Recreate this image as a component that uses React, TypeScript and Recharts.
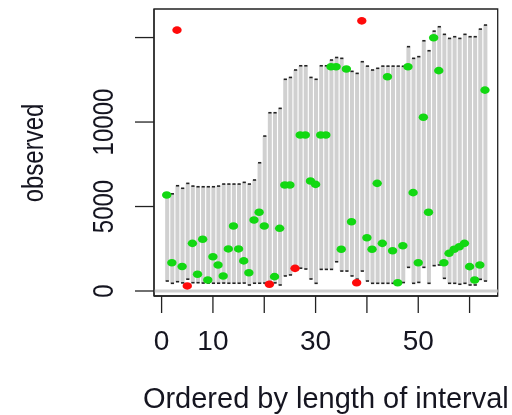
import {
  ComposedChart,
  Bar,
  Scatter,
  XAxis,
  YAxis,
  ReferenceLine,
  ReferenceArea,
} from "recharts";

// interval index (ordered by length of interval)
const idx = [
  1, 2, 3, 4, 5, 6, 7, 8, 9, 10, 11, 12, 13, 14, 15, 16, 17, 18, 19, 20, 21,
  22, 23, 24, 25, 26, 27, 28, 29, 30, 31, 32, 33, 34, 35, 36, 37, 38, 39, 40,
  41, 42, 43, 44, 45, 46, 47, 48, 49, 50, 51, 52, 53, 54, 55, 56, 57, 58, 59,
  60, 61, 62, 63,
];

const lower = [
  590, 455, 550, 480, 700, 490, 490, 470, 470, 460, 460, 470, 460, 460, 460,
  470, 355, 460, 460, 470, 550, 480, 355, 890, 950, 1450, 1350, 1300, 710, 455,
  1280, 1280, 1280, 1730, 1180, 1180, 890, 700, 1180, 590, 455, 455, 455, 455,
  455, 420, 500, 1400, 455, 510, 1400, 455, 1500, 1540, 750, 455, 455, 400,
  455, 355, 355, 690, 590,
];

const upper = [
  5800, 5750, 6230, 6080, 6370, 6210, 6170, 6170, 6170, 6170, 6210, 6330, 6330,
  6330, 6330, 6430, 6330, 6570, 7590, 9170, 10550, 10550, 10810, 12530, 12640,
  13080, 13330, 13330, 12640, 12530, 13330, 13330, 13670, 13820, 13770, 13200,
  13000, 12880, 13570, 13310, 13080, 13180, 13310, 13310, 13310, 13310, 13300,
  14460, 13770, 13870, 14810, 14220, 15380, 15640, 15190, 14950, 15050, 14950,
  15190, 15050, 15050, 15500, 15740,
];

const observed = [
  5680, 1675, 15440, 1450, 300, 2820, 990, 3060, 650, 2030, 1540, 890, 2490,
  3850, 2490, 1780, 1080, 4200, 4660, 3850, 400, 850, 3710, 6270, 6270, 1340,
  9230, 9230, 6510, 6310, 9230, 9230, 13270, 13270, 2470, 13140, 4100, 490,
  15990, 3150, 2470, 6370, 2820, 12680, 2380, 490, 2680, 13270, 5820, 1675,
  10280, 4660, 14990, 13040, 1675, 2230, 2470, 2620, 2820, 1440, 650, 1540,
  11890,
];

const xTicks = [0, 10, 20, 30, 40, 50, 60];
const xTickLabels = ["0", "10", "", "30", "", "50", ""];
const yTicks = [0, 5000, 10000, 15000];
const yTickLabels = ["0", "5000", "10000", ""];

const rows = idx.map((i, k) => ({
  idx: i,
  range: [lower[k], upper[k]],
  obs: observed[k],
  inside: observed[k] >= lower[k] && observed[k] <= upper[k],
}));
const insideRows = rows.filter((r) => r.inside);
const outsideRows = rows.filter((r) => !r.inside);

const FONT = "'Liberation Sans', Arial, Helvetica, sans-serif";
const INK = "#151520";

const IntervalShape = (props: any) => {
  const { x, y, width, height } = props;
  const top = Math.min(y, y + height);
  const h = Math.abs(height);
  const cx = x + width / 2;
  return (
    <g>
      <rect x={x} y={top} width={width} height={h} fill="#d0d0d0" />
      <rect x={cx - 1.5} y={top - 0.8} width={3.2} height={1.6} fill="#222" />
      <rect x={cx - 1.5} y={top + h - 0.8} width={3.2} height={1.6} fill="#222" />
    </g>
  );
};

const dot = (color: string) => (props: any) =>
  <ellipse cx={props.cx} cy={props.cy} rx={4.7} ry={3.8} fill={color} />;

const XTick = (props: any) => {
  const { x, payload } = props;
  const label = xTickLabels[xTicks.indexOf(payload.value)];
  if (!label) return <g />;
  return (
    <text x={x} y={350} textAnchor="middle" fontSize={28} fontFamily={FONT} fill={INK}>
      {label}
    </text>
  );
};

const YTick = (props: any) => {
  const { y, payload } = props;
  const label = yTickLabels[yTicks.indexOf(payload.value)];
  if (!label) return <g />;
  return (
    <text
      transform={`translate(113.3, ${y}) scale(1.2, 1) rotate(-90)`}
      textAnchor="middle"
      fontSize={24}
      fontFamily={FONT}
      fill={INK}
    >
      {label}
    </text>
  );
};

export default function App() {
  // fixed so the page never gets a scrollbar
  return (
    <div style={{ position: "fixed", left: 0, top: 0 }}>
      <ComposedChart
        width={512}
        height={415}
        data={rows}
        margin={{ top: 9, right: 14.3, bottom: 0, left: 0 }}
      >
        <XAxis
          type="number"
          dataKey="idx"
          domain={[-1.48, 65.48]}
          allowDataOverflow
          ticks={xTicks}
          interval={0}
          height={119}
          tickSize={17}
          tick={<XTick />}
          tickLine={{ stroke: "#222", strokeWidth: 1.3 }}
          axisLine={{ stroke: "#222", strokeWidth: 1.3 }}
          label={{
            content: (p: any) => (
              <text
                x={p.viewBox.x + p.viewBox.width / 2}
                y={408}
                textAnchor="middle"
                fontSize={29}
                fontFamily={FONT}
                fill={INK}
              >
                Ordered by length of interval
              </text>
            ),
          }}
        />
        <YAxis
          type="number"
          domain={[-296, 16690]}
          allowDataOverflow
          ticks={yTicks}
          interval={0}
          width={154}
          tickSize={19}
          tick={<YTick />}
          tickLine={{ stroke: "#222", strokeWidth: 1.3 }}
          axisLine={{ stroke: "#222", strokeWidth: 1.3 }}
          label={{
            content: () => (
              <text
                transform="translate(43.3, 153) scale(1.2, 1) rotate(-90)"
                textAnchor="middle"
                fontSize={24}
                fontFamily={FONT}
                fill={INK}
              >
                observed
              </text>
            ),
          }}
        />
        <ReferenceLine y={0} stroke="#cfcfcf" strokeWidth={3} />
        <Bar
          dataKey="range"
          barSize={4}
          shape={<IntervalShape />}
          isAnimationActive={false}
        />
        <Scatter
          data={insideRows}
          dataKey="obs"
          shape={dot("#12d812")}
          isAnimationActive={false}
        />
        <Scatter
          data={outsideRows}
          dataKey="obs"
          shape={dot("#ff0a0a")}
          isAnimationActive={false}
        />
        <ReferenceArea
          x1={-1.48}
          x2={65.48}
          y1={-296}
          y2={16690}
          fill="none"
          fillOpacity={0}
          stroke="#222"
          strokeWidth={1.3}
          ifOverflow="visible"
        />
      </ComposedChart>
    </div>
  );
}
